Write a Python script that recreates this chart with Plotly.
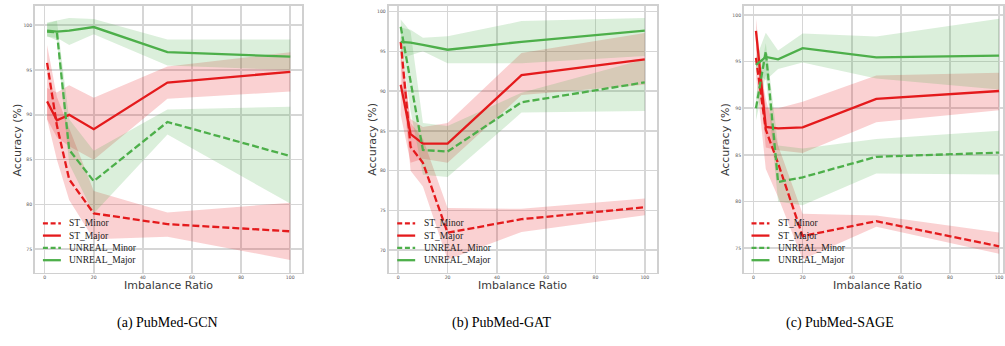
import plotly.graph_objects as go

W, H = 1005, 346

# ---------------- data ----------------
imbalance = [1, 5, 10, 20, 50, 100]
series_names = ["ST_Minor", "ST_Major", "UNREAL_Minor", "UNREAL_Major"]
panel_captions = ["(a) PubMed-GCN", "(b) PubMed-GAT", "(c) PubMed-SAGE"]
x_ticks = [0, 20, 40, 60, 80, 100]

# PubMed-GCN
gcn_st_minor = [95.8, 88.8, 82.8, 79.0, 77.8, 77.0]
gcn_st_minor_lo = [89.5, 85.0, 80.5, 76.1, 76.4, 73.8]
gcn_st_minor_hi = [97.8, 92.0, 88.5, 81.5, 79.1, 80.2]
gcn_st_major = [91.5, 89.4, 90.0, 88.4, 93.6, 94.8]
gcn_st_major_lo = [89.5, 87.5, 86.5, 85.0, 91.8, 92.6]
gcn_st_major_hi = [93.0, 92.5, 93.3, 91.9, 95.4, 97.0]
gcn_un_minor = [99.3, 99.2, 86.1, 82.6, 89.2, 85.4]
gcn_un_minor_lo = [98.8, 98.3, 84.5, 79.0, 87.8, 80.1]
gcn_un_minor_hi = [100.2, 100.5, 89.5, 86.0, 90.6, 90.9]
gcn_un_major = [99.4, 99.3, 99.4, 99.8, 97.0, 96.5]
gcn_un_major_lo = [98.7, 98.6, 97.8, 99.0, 95.5, 95.0]
gcn_un_major_hi = [100.3, 100.5, 100.8, 100.7, 98.4, 98.4]

# PubMed-GAT
gat_st_minor = [96.2, 83.0, 81.0, 72.2, 73.9, 75.4]
gat_st_minor_lo = [93.5, 80.0, 78.0, 68.8, 72.3, 74.4]
gat_st_minor_hi = [97.0, 86.0, 84.0, 75.3, 75.2, 76.5]
gat_st_major = [90.8, 84.6, 83.4, 83.4, 92.0, 94.0]
gat_st_major_lo = [87.0, 81.0, 81.5, 81.0, 89.5, 90.8]
gat_st_major_hi = [95.0, 86.5, 85.5, 86.0, 94.8, 97.3]
gat_un_minor = [98.1, 91.0, 82.6, 82.4, 88.6, 91.1]
gat_un_minor_lo = [96.0, 87.5, 79.5, 79.2, 87.3, 87.5]
gat_un_minor_hi = [99.0, 97.5, 86.0, 85.6, 89.8, 94.0]
gat_un_major = [96.2, 96.1, 95.8, 95.2, 96.2, 97.6]
gat_un_major_lo = [94.2, 94.5, 95.0, 93.5, 93.5, 94.4]
gat_un_major_hi = [98.0, 97.7, 96.7, 96.9, 98.8, 99.2]

# PubMed-SAGE
sage_st_minor = [95.4, 87.7, 84.1, 76.3, 77.9, 75.2]
sage_st_minor_lo = [93.5, 83.5, 80.5, 73.8, 77.3, 74.4]
sage_st_minor_hi = [97.0, 91.0, 86.0, 78.7, 78.5, 76.7]
sage_st_major = [98.3, 88.0, 87.85, 87.95, 91.0, 91.85]
sage_st_major_lo = [97.0, 85.8, 85.5, 85.2, 88.5, 89.8]
sage_st_major_hi = [99.6, 90.0, 90.0, 90.7, 93.5, 93.8]
sage_un_minor = [90.0, 96.1, 82.1, 82.6, 84.8, 85.25]
sage_un_minor_lo = [88.7, 93.5, 80.0, 79.6, 83.0, 82.9]
sage_un_minor_hi = [91.3, 97.0, 86.0, 85.7, 86.7, 87.6]
sage_un_major = [94.65, 95.5, 95.25, 96.45, 95.45, 95.65]
sage_un_major_lo = [93.9, 93.0, 94.2, 94.9, 93.2, 92.0]
sage_un_major_hi = [95.3, 98.1, 96.2, 98.0, 97.7, 99.6]

panels = [
    [(gcn_st_minor, gcn_st_minor_lo, gcn_st_minor_hi),
     (gcn_st_major, gcn_st_major_lo, gcn_st_major_hi),
     (gcn_un_minor, gcn_un_minor_lo, gcn_un_minor_hi),
     (gcn_un_major, gcn_un_major_lo, gcn_un_major_hi)],
    [(gat_st_minor, gat_st_minor_lo, gat_st_minor_hi),
     (gat_st_major, gat_st_major_lo, gat_st_major_hi),
     (gat_un_minor, gat_un_minor_lo, gat_un_minor_hi),
     (gat_un_major, gat_un_major_lo, gat_un_major_hi)],
    [(sage_st_minor, sage_st_minor_lo, sage_st_minor_hi),
     (sage_st_major, sage_st_major_lo, sage_st_major_hi),
     (sage_un_minor, sage_un_minor_lo, sage_un_minor_hi),
     (sage_un_major, sage_un_major_lo, sage_un_major_hi)],
]

# ---------------- styling ----------------
RED = "#e41a1c"
GREEN = "#4daf4a"
RED_FILL = "rgba(228,26,28,0.2)"
GREEN_FILL = "rgba(77,175,74,0.2)"
styles = [(RED, RED_FILL, "7px,3px"), (RED, RED_FILL, "solid"),
          (GREEN, GREEN_FILL, "7px,3px"), (GREEN, GREEN_FILL, "solid")]

# plot-area boxes in pixels: (left, right, top, bottom), axis ranges
boxes = [(35.0, 303.0, 6.0, 272.5), (389.3, 658.3, 6.0, 272.5), (745.3, 1005.0, 6.0, 272.5)]
xranges = [[-3.95, 104.95], [-3.95, 104.95], [-3.95, 101.6]]
yranges = [[72.4, 102.15], [67.2, 100.7], [72.4, 100.96]]
ytitle_x = [18, 373, 727]
xtitle_cx = [169, 523.5, 879]
legend_x = [(43, 61, 67.5), (398, 416, 422.5), (753, 771, 777.5)]
caption_cx = [168, 503, 842]

def fx(px):
    return px / W

def fy(py):
    return 1 - py / H

fig = go.Figure()

for p, data in enumerate(panels):
    xa = "x" if p == 0 else f"x{p+1}"
    ya = "y" if p == 0 else f"y{p+1}"
    # bands
    for (mid, lo, hi), (lc, fc, dash) in zip(data, styles):
        fig.add_trace(go.Scatter(
            x=imbalance + imbalance[::-1], y=hi + lo[::-1],
            fill="toself", fillcolor=fc, line=dict(width=0),
            mode="lines", hoverinfo="skip", showlegend=False,
            xaxis=xa, yaxis=ya))
    # lines
    for name, (mid, lo, hi), (lc, fc, dash) in zip(series_names, data, styles):
        fig.add_trace(go.Scatter(
            x=imbalance, y=mid, mode="lines", name=name,
            line=dict(color=lc, width=2.3, dash=dash),
            showlegend=False, xaxis=xa, yaxis=ya))

layout = dict(
    width=W, height=H,
    margin=dict(l=0, r=0, t=0, b=0),
    paper_bgcolor="white", plot_bgcolor="white",
    showlegend=False,
)
axis_common = dict(
    showgrid=True, gridcolor="#d6d6d6", gridwidth=1.6,
    showline=True, linecolor="#d0d0d0", linewidth=1.8, mirror=True,
    zeroline=False, ticks="", tickfont=dict(family="DejaVu Sans", size=4.6, color="#555555"),
)
annotations = []
shapes = []
for p in range(3):
    l, r, t, b = boxes[p]
    xk = "xaxis" if p == 0 else f"xaxis{p+1}"
    yk = "yaxis" if p == 0 else f"yaxis{p+1}"
    xa = "x" if p == 0 else f"x{p+1}"
    ya = "y" if p == 0 else f"y{p+1}"
    layout[xk] = dict(axis_common, domain=[fx(l), min(1.0, fx(r))], range=xranges[p],
                      tickvals=x_ticks, anchor=ya, ticklabelstandoff=-1)
    layout[yk] = dict(axis_common, domain=[fy(b), fy(t)], range=yranges[p],
                      dtick=5, tick0=0, anchor=xa, ticklabelstandoff=0)
    # axis titles
    annotations.append(dict(text="Imbalance Ratio", x=fx(xtitle_cx[p]), y=fy(285.5),
                            xref="paper", yref="paper", showarrow=False,
                            xanchor="center", yanchor="middle",
                            font=dict(family="DejaVu Sans", size=11, color="#3a3a3a")))
    annotations.append(dict(text="Accuracy (%)", x=fx(ytitle_x[p]), y=fy(139.5),
                            xref="paper", yref="paper", showarrow=False, textangle=-90,
                            xanchor="center", yanchor="middle",
                            font=dict(family="DejaVu Sans", size=11, color="#3a3a3a")))
    # caption
    annotations.append(dict(text=panel_captions[p], x=fx(caption_cx[p]), y=fy(323),
                            xref="paper", yref="paper", showarrow=False,
                            xanchor="center", yanchor="middle",
                            font=dict(family="Liberation Serif", size=14, color="black")))
    # legend (manual, compact like matplotlib)
    x0, x1, xt = legend_x[p]
    for i, (name, (lc, fc, dash)) in enumerate(zip(series_names, styles)):
        yy = 223.3 + 12.3 * i
        shapes.append(dict(type="line", xref="paper", yref="paper",
                           x0=fx(x0), x1=fx(x1), y0=fy(yy), y1=fy(yy),
                           line=dict(color=lc, width=2.3, dash="5px,2.7px" if dash != "solid" else "solid")))
        annotations.append(dict(text=name, x=fx(xt), y=fy(yy), xref="paper", yref="paper",
                                showarrow=False, xanchor="left", yanchor="middle",
                                font=dict(family="Liberation Serif", size=9.5, color="#222222")))

layout["annotations"] = annotations
layout["shapes"] = shapes
fig.update_layout(**layout)
fig.write_html("out.html", config={"displayModeBar": False, "staticPlot": True},
               post_script="document.body.style.margin='0px';document.body.style.overflow='hidden';")
